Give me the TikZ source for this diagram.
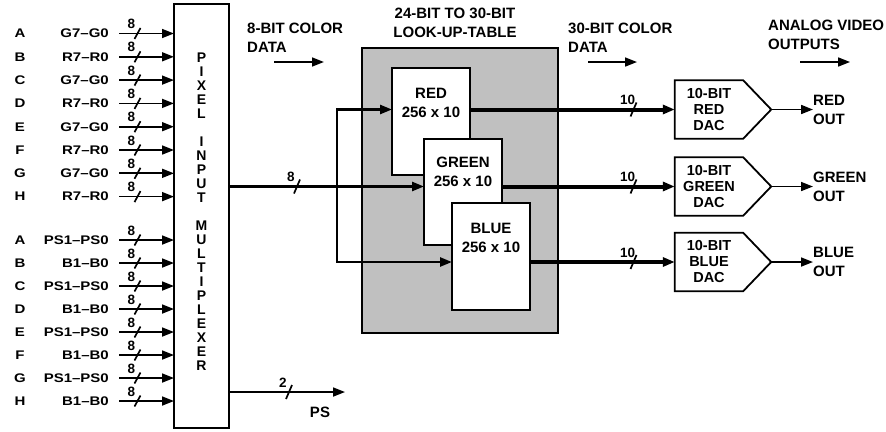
\documentclass[tikz,border=0pt]{standalone}
\usepackage{fontspec}
\setmainfont{Liberation Sans}
\newfontfamily\widefont[FakeStretch=1.2, Ligatures=TeX]{Liberation Sans}
\usetikzlibrary{arrows.meta, calc, positioning}
\definecolor{lutgray}{RGB}{192,192,192}

\tikzset{
  lbl/.style={font=\fontsize{15}{19}\selectfont\bfseries, inner sep=0pt},
  inlbl/.style={font=\widefont\fontsize{12.5}{14}\selectfont\bfseries, inner sep=0pt},
  numlbl/.style={font=\fontsize{13.5}{14}\selectfont\bfseries, inner sep=0pt},
  arrowtip/.style={-{Triangle[length=12pt,width=9pt]}},
  thinline/.style={line width=1.7pt},
  midline/.style={line width=2.5pt},
  fatline/.style={line width=4pt},
  lutbox/.style={draw, fill=white, line width=1.8pt, minimum width=78pt,
    minimum height=107pt, inner sep=0pt, outer sep=0pt},
  dac/.style={lbl, align=center, font=\fontsize{14.5}{16}\selectfont\bfseries,
    minimum width=68pt, minimum height=58pt},
}
% bus width mark: coordinate, label, half height
\newcommand{\busmark}[3]{%
  \draw[thinline] ($(#1)+(-3,#3)$) -- ($(#1)+(3,-#3)$);
  \node[numlbl] (#1-n) at ($(#1)+(-6,-9.5)$) {#2};}

\begin{document}
\begin{tikzpicture}[x=1pt, y=-1pt]
\useasboundingbox (0,0) rectangle (886,431);
% multiplexer
\node[draw, line width=2.6pt, minimum width=55pt, minimum height=424pt,
  inner sep=0pt, outer sep=0pt] (mux) at (201.5,216) {};
\node[lbl, align=center, font=\fontsize{14}{14}\selectfont\bfseries]
  (muxtext) at (201.5,212)
  {P\\I\\X\\E\\L\\[14pt]I\\N\\P\\U\\T\\[14pt]M\\U\\L\\T\\I\\P\\L\\E\\X\\E\\R};
% pixel inputs
\foreach \k/\s/\y [count=\i] in {
  A/G7--G0/33.5, B/R7--R0/56.8, C/G7--G0/80.1, D/R7--R0/103.4,
  E/G7--G0/126.7, F/R7--R0/150, G/G7--G0/173.3, H/R7--R0/196.6,
  A/PS1--PS0/240, B/B1--B0/263, C/PS1--PS0/286, D/B1--B0/309,
  E/PS1--PS0/332, F/B1--B0/355, G/PS1--PS0/378, H/B1--B0/401}{
  \node[inlbl] (key\i) at (20,\y) {\k};
  \node[inlbl, anchor=east] (sig\i) at (109,\y) {\s};
  \coordinate (in\i) at (119,\y);
  \coordinate (bm\i) at (137.5,\y);
  \draw[thinline, arrowtip] (in\i) -- (in\i -| mux.west);
  \busmark{bm\i}{8}{5.5}
}
% headers
\node[lbl, align=left, anchor=west] (hdrin) at (247,37.5) {8-BIT COLOR\\DATA};
\node[lbl, align=center] (hdrlut) at (455,22.5) {24-BIT TO 30-BIT\\LOOK-UP-TABLE};
\node[lbl, align=left, anchor=west] (hdrlut2) at (568,37.5) {30-BIT COLOR\\DATA};
\node[lbl, align=left, anchor=west] (hdrout) at (768,34.5) {ANALOG VIDEO\\OUTPUTS};
\coordinate (ha1) at (274,62); \coordinate (hb1) at (324,62);
\coordinate (ha2) at (588,62); \coordinate (hb2) at (637,62);
\coordinate (ha3) at (800,62); \coordinate (hb3) at (850,62);
\foreach \j in {1,2,3}{\draw[thinline, arrowtip] (ha\j) -- (hb\j);}
% look-up-table
\node[draw, fill=lutgray, line width=1.8pt, minimum width=196pt,
  minimum height=285pt, inner sep=0pt, outer sep=0pt] (lut) at (460,190.5) {};
\node[lutbox] (lutR) at (431,121.5) {};
\node[lbl, align=center] (lutRtxt) at (431,102.5) {RED\\256 x 10};
\node[lutbox, minimum height=106pt] (lutG) at (463,192) {};
\node[lbl, align=center] (lutGtxt) at (463,171.5) {GREEN\\256 x 10};
\node[lutbox] (lutB) at (491,256.5) {};
\node[lbl, align=center] (lutBtxt) at (491,237.5) {BLUE\\256 x 10};
% DACs and outputs
\foreach \c/\y in {RED/109.5, GREEN/186.5, BLUE/262}{
  \node[dac] (dac\c) at (709,\y) {10-BIT\\\c\\DAC};
  \coordinate (tip\c) at ($(dac\c.east)+(28,0)$);
  \draw[line width=1.8pt] (dac\c.north west) -- (dac\c.north east)
    -- (tip\c) -- (dac\c.south east) -- (dac\c.south west) -- cycle;
  \node[lbl, align=left, anchor=west] (out\c) at (813,\y) {\c\\OUT};
  \draw[thinline, arrowtip] (tip\c) -- (out\c.west);
  \coordinate (bo\c) at (633.5,\y);
  \busmark{bo\c}{10}{7}
}
\draw[fatline, arrowtip] (lutR.east |- dacRED) -- (dacRED.west);
\draw[fatline, arrowtip] (lutG.east |- dacGREEN) -- (dacGREEN.west);
\draw[fatline, arrowtip] (lutB.east |- dacBLUE) -- (dacBLUE.west);
% mux to look-up-table
\coordinate (split) at (337,186.5);
\draw[midline, arrowtip] (mux.east |- split) -- (lutG.west |- split);
\draw[midline, arrowtip] (split) |- (lutR.west |- dacRED);
\draw[midline, arrowtip] (split) |- (lutB.west |- dacBLUE);
\coordinate (bmlut) at (297,186.5);
\busmark{bmlut}{8}{7}
% palette select
\coordinate (psrow) at (345,392);
\draw[thinline, arrowtip] (mux.east |- psrow) -- (psrow);
\coordinate (bmps) at (289,392);
\busmark{bmps}{2}{7}
\node[lbl] (ps) at (320,412) {PS};
\end{tikzpicture}
\end{document}
